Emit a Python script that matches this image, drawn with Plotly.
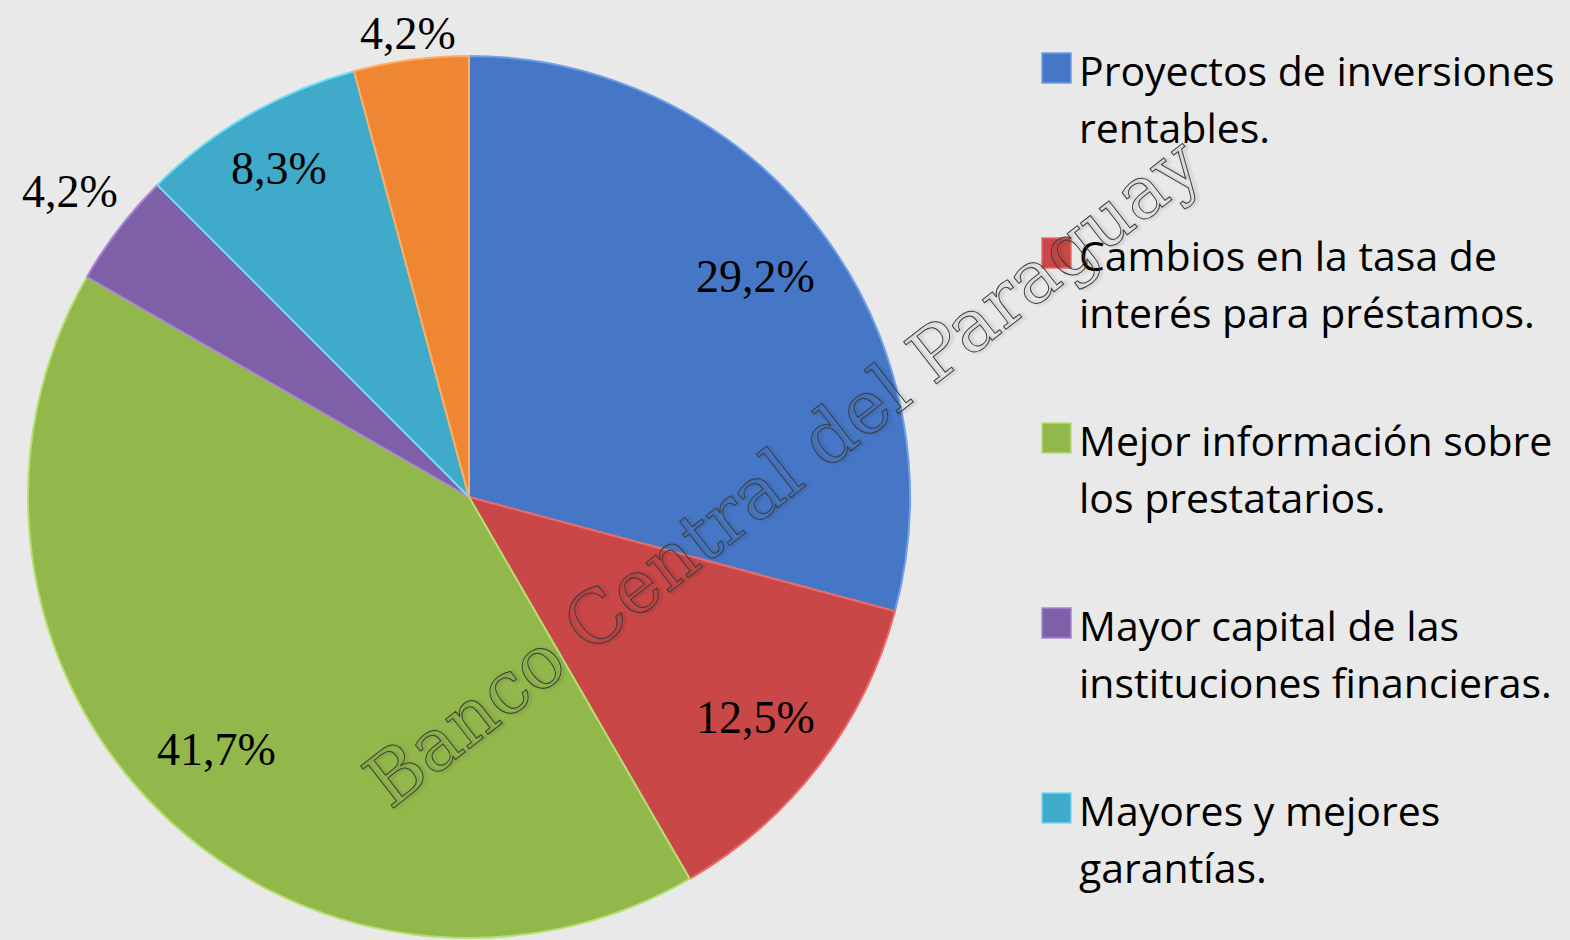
import math
import plotly.graph_objects as go

# survey shares (%), clockwise from 12 o'clock
labels = [
    "Proyectos de inversiones rentables.",
    "Cambios en la tasa de interés para préstamos.",
    "Mejor información sobre los prestatarios.",
    "Mayor capital de las instituciones financieras.",
    "Mayores y mejores garantías.",
    "Otros",
]
values = [29.2, 12.5, 41.7, 4.2, 8.3, 4.2]

# legend text as shown in the slide (two lines per item)
legend_lines = [
    ["Proyectos de inversiones", "rentables."],
    ["Cambios en la tasa de", "interés para préstamos."],
    ["Mejor información sobre", "los prestatarios."],
    ["Mayor capital de las", "instituciones financieras."],
    ["Mayores y mejores", "garantías."],
]

colors = ["#4677c6", "#c94747", "#92b84c", "#7e60a8", "#3faaca", "#ef8633"]
edge_colors = ["#6fa0e8", "#ee6a66", "#b5e070", "#a785d0", "#6fdcf5", "#ffad60"]
# how far from the centre each data label sits (fraction of the radius)
label_radius = [0.82, 0.82, 0.81, 1.14, 0.86, 1.06]

W, H = 1570, 940
# pie box in pixels: left, right, top, bottom
px0, px1, py0, py1 = 28, 910, 56, 938
cx, cy, r = (px0 + px1) / 2, (py0 + py1) / 2, (px1 - px0) / 2

fig = go.Figure()

fig.add_trace(go.Pie(
    labels=labels,
    values=values,
    sort=False,
    direction="clockwise",
    rotation=0,
    marker=dict(colors=colors, line=dict(color=edge_colors, width=2)),
    textinfo="none",
    hoverinfo="label+percent",
    showlegend=False,
    domain=dict(x=[px0 / W, px1 / W], y=[1 - py1 / H, 1 - py0 / H]),
))

# data labels at the middle angle of each slice
total = sum(values)
cum = 0
for v, f in zip(values, label_radius):
    ang = 2 * math.pi * (cum + v / 2) / total
    cum += v
    fig.add_annotation(
        x=(cx + f * r * math.sin(ang)) / W,
        y=1 - (cy - f * r * math.cos(ang)) / H,
        xref="paper", yref="paper", xanchor="center", yanchor="middle",
        showarrow=False,
        text=f"{v:.1f}%".replace(".", ","),
        font=dict(family="Liberation Serif", size=46, color="black"),
    )

# hand-built legend (the sixth entry falls off the slide)
for i, lines in enumerate(legend_lines):
    top = 53 + 185 * i
    fig.add_shape(
        type="rect", xref="paper", yref="paper",
        x0=1042 / W, x1=1071 / W, y0=1 - top / H, y1=1 - (top + 30) / H,
        fillcolor=colors[i], line=dict(color=edge_colors[i], width=1.5),
    )
    for j, txt in enumerate(lines):
        fig.add_annotation(
            x=1077 / W, y=1 - (70 + 57 * j + 185 * i) / H,
            xref="paper", yref="paper", xanchor="left", yanchor="middle",
            text=txt, showarrow=False,
            font=dict(family="Open Sans", size=41, color="black"),
        )

# watermark
fig.add_annotation(
    x=783 / W, y=1 - 472 / H, xref="paper", yref="paper",
    xanchor="center", yanchor="middle",
    text="Banco Central del Paraguay", showarrow=False, textangle=-38,
    font=dict(family="DejaVu Serif", size=73, color="rgba(255,255,255,0.1)"),
)

fig.update_layout(
    width=W, height=H,
    margin=dict(l=0, r=0, t=0, b=0),
    paper_bgcolor="#e9e9e9",
    plot_bgcolor="#e9e9e9",
)

# no page margin, light paper gradient, watermark drawn as outlined letters
post = """
document.body.style.margin = '0';
var gd = document.getElementById('{plot_id}');
var NS = 'http://www.w3.org/2000/svg';
function decorate() {
  var svg = gd.querySelector('.main-svg');
  if (svg && !document.getElementById('paperGrad')) {
    var defs = document.createElementNS(NS, 'defs');
    var g = document.createElementNS(NS, 'linearGradient');
    g.setAttribute('id', 'paperGrad');
    g.setAttribute('x1', '0'); g.setAttribute('y1', '0');
    g.setAttribute('x2', '1'); g.setAttribute('y2', '1');
    [['0', '#f3f3f3'], ['0.55', '#e8e8e8'], ['1', '#dcdcdc']].forEach(function (s) {
      var st = document.createElementNS(NS, 'stop');
      st.setAttribute('offset', s[0]);
      st.setAttribute('stop-color', s[1]);
      g.appendChild(st);
    });
    defs.appendChild(g);
    svg.insertBefore(defs, svg.firstChild);
  }
  var bg = gd.querySelector('.main-svg rect.bg');
  if (bg) bg.style.fill = 'url(#paperGrad)';
  gd.querySelectorAll('.annotation-text').forEach(function (t) {
    if (t.textContent.indexOf('Banco') === 0) {
      t.style.stroke = '#3c3c3c';
      t.style.strokeWidth = '1px';
      t.style.fill = 'rgba(255,255,255,0.08)';
      t.style.textShadow = '2px 2px 3px rgba(0,0,0,0.25)';
    }
  });
}
decorate();
gd.on('plotly_afterplot', decorate);
"""

fig.write_html("out.html", post_script=post, config={"displayModeBar": False})
